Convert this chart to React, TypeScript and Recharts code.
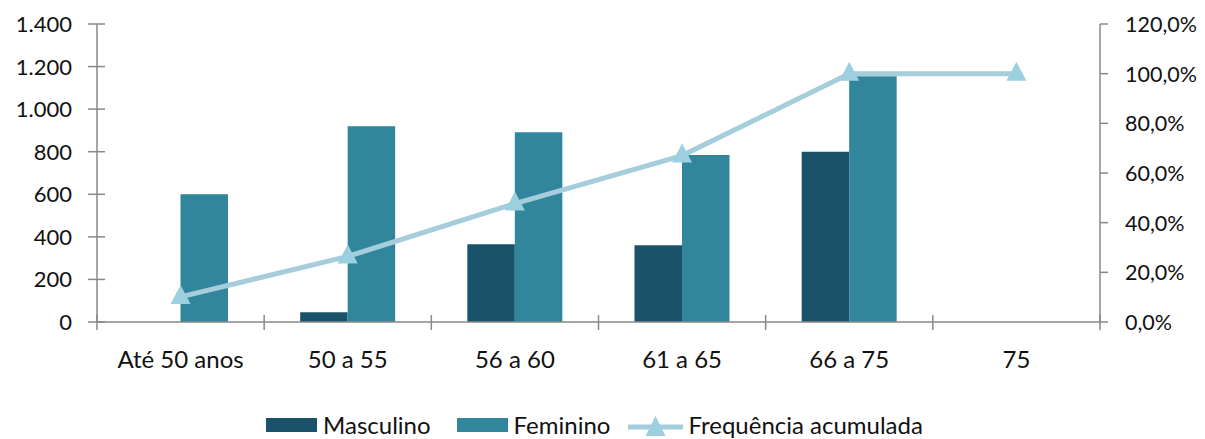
import React from 'react';
import {
  ComposedChart,
  Bar,
  Line,
  XAxis,
  YAxis,
  Legend,
} from 'recharts';

const categories = ['Até 50 anos', '50 a 55', '56 a 60', '61 a 65', '66 a 75', '75'];
const masculino = [0, 46, 365, 360, 800, 0];
const feminino = [600, 920, 891, 784, 1155, 0];
const acumulada = [10.1, 26.4, 47.7, 67.0, 100, 100];
const leftTicks = [0, 200, 400, 600, 800, 1000, 1200, 1400];
const rightTicks = [0, 20, 40, 60, 80, 100, 120];

const data = categories.map((name, i) => ({
  name,
  masculino: masculino[i],
  feminino: feminino[i],
  acumulada: acumulada[i],
}));

const W = 1205;
const H = 439;
const LEFT_W = 97;
const RIGHT_W = 105;
const BAND = (W - LEFT_W - RIGHT_W) / categories.length;

const AXIS = '#898989';
const MASC = '#1A5369';
const FEM = '#31869B';
const LINE = '#A5CDDB';
const MARK = '#9CCFE0';
const FONT = 'Lato, "Open Sans", sans-serif';
const TEXT = '#111';

const fmtLeft = (v: number) => v.toString().replace(/\B(?=(\d{3})+(?!\d))/g, '.');
const fmtRight = (v: number) => v.toFixed(1).replace('.', ',') + '%';

const LeftTick = (props: any) => {
  const { x, y, payload } = props;
  const ax = x + 10; // tickSize 0 + tickMargin 10
  return (
    <g>
      <line x1={ax - 9} x2={ax + 8} y1={y} y2={y} stroke={AXIS} strokeWidth={1.5} />
      <text x={ax - 25} y={y + 8} textAnchor="end" fontSize={22} fill={TEXT} fontFamily={FONT}>
        {fmtLeft(payload.value)}
      </text>
    </g>
  );
};

const RightTick = (props: any) => {
  const { x, y, payload } = props;
  const ax = x - 10;
  return (
    <g>
      <line x1={ax} x2={ax + 8} y1={y} y2={y} stroke={AXIS} strokeWidth={1.5} />
      <text x={ax + 25} y={y + 8} textAnchor="start" fontSize={21.5} fill={TEXT} fontFamily={FONT}>
        {fmtRight(payload.value)}
      </text>
    </g>
  );
};

const XTick = (props: any) => {
  const { x, y, payload, index } = props;
  const ay = y - 10;
  const left = x - BAND / 2;
  const right = x + BAND / 2;
  return (
    <g>
      <line x1={left} x2={left} y1={ay - 7} y2={ay + 8} stroke={AXIS} strokeWidth={1.5} />
      {index === categories.length - 1 && (
        <line x1={right} x2={right} y1={ay - 7} y2={ay + 8} stroke={AXIS} strokeWidth={1.5} />
      )}
      <text x={x} y={ay + 46} textAnchor="middle" fontSize={24} fill={TEXT} fontFamily={FONT}>
        {payload.value}
      </text>
    </g>
  );
};

const Triangle = (props: any) => {
  const { cx, cy } = props;
  if (cx == null || cy == null) return null;
  return <polygon points={`${cx},${cy - 12} ${cx - 10},${cy + 7} ${cx + 10},${cy + 7}`} fill={MARK} />;
};

const LegendContent = () => (
  <div
    style={{
      display: 'flex',
      justifyContent: 'center',
      alignItems: 'center',
      height: 26,
      lineHeight: '26px',
      fontFamily: FONT,
      fontSize: 24,
      color: TEXT,
      paddingRight: 16,
      whiteSpace: 'nowrap',
    }}
  >
    <span style={{ display: 'inline-block', width: 51, height: 14, background: MASC, marginRight: 6 }} />
    <span style={{ marginRight: 26 }}>Masculino</span>
    <span style={{ display: 'inline-block', width: 51, height: 14, background: FEM, marginRight: 6 }} />
    <span style={{ marginRight: 18 }}>Feminino</span>
    <svg width={55} height={22} style={{ marginRight: 5 }}>
      <line x1={0} x2={55} y1={13} y2={13} stroke={LINE} strokeWidth={5} />
      <polygon points="27.5,2 17.5,22 37.5,22" fill={MARK} />
    </svg>
    <span>Frequência acumulada</span>
  </div>
);

export default function App() {
  return (
    <div style={{ position: 'absolute', left: 0, top: 0, background: '#fff' }}>
      <ComposedChart
        width={W}
        height={H}
        data={data}
        margin={{ top: 24, right: 0, left: 0, bottom: 1 }}
        barGap={0}
        barSize={47.5}
      >
        <XAxis
          dataKey="name"
          height={90}
          tickSize={0}
          tickMargin={10}
          axisLine={{ stroke: AXIS, strokeWidth: 1.5 }}
          tickLine={false}
          tick={<XTick />}
          interval={0}
        />
        <YAxis
          yAxisId="left"
          orientation="left"
          width={LEFT_W}
          domain={[0, 1400]}
          ticks={leftTicks}
          tickSize={0}
          tickMargin={10}
          axisLine={{ stroke: AXIS, strokeWidth: 1.5 }}
          tickLine={false}
          tick={<LeftTick />}
          interval={0}
        />
        <YAxis
          yAxisId="right"
          orientation="right"
          width={RIGHT_W}
          domain={[0, 120]}
          ticks={rightTicks}
          tickSize={0}
          tickMargin={10}
          axisLine={{ stroke: AXIS, strokeWidth: 1.5 }}
          tickLine={false}
          tick={<RightTick />}
          interval={0}
        />
        <Legend verticalAlign="bottom" content={<LegendContent />} />
        <Bar yAxisId="left" dataKey="masculino" name="Masculino" fill={MASC} isAnimationActive={false} />
        <Bar yAxisId="left" dataKey="feminino" name="Feminino" fill={FEM} isAnimationActive={false} />
        <Line
          yAxisId="right"
          dataKey="acumulada"
          name="Frequência acumulada"
          stroke={LINE}
          strokeWidth={5}
          dot={<Triangle />}
          activeDot={false}
          isAnimationActive={false}
        />
      </ComposedChart>
    </div>
  );
}
